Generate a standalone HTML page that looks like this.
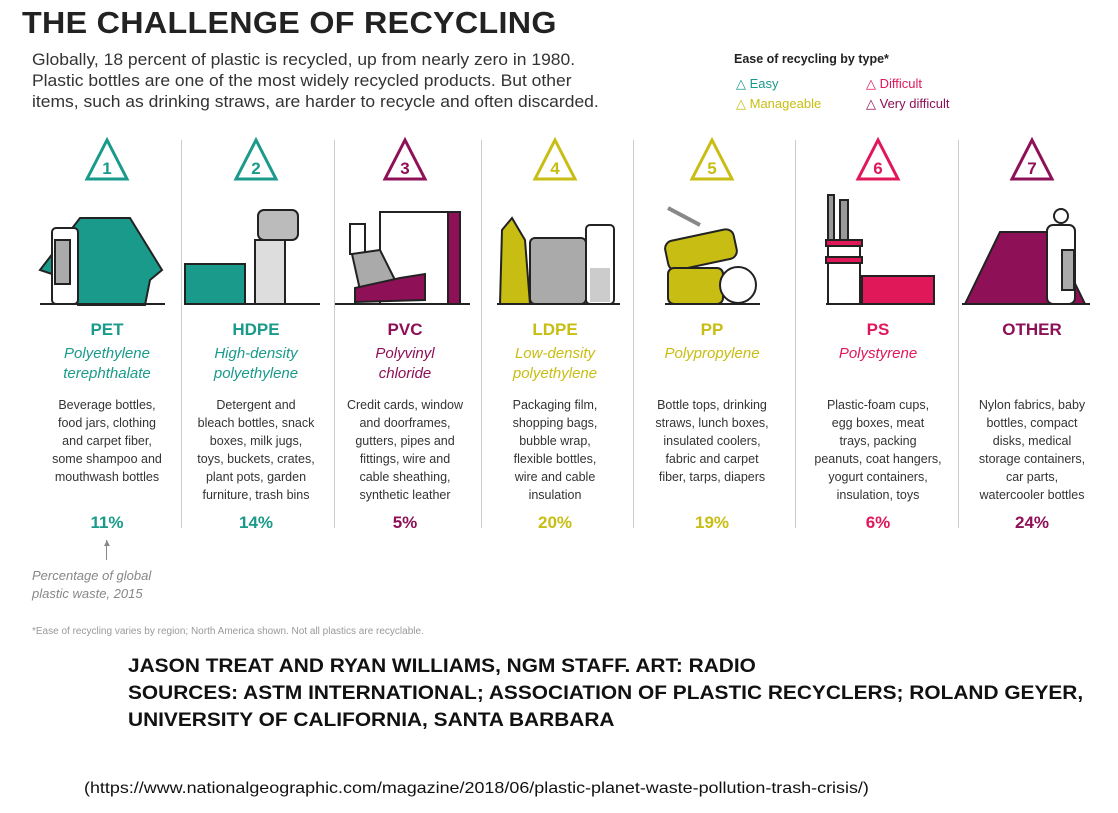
<!DOCTYPE html>
<html><head><meta charset="utf-8"><style>
body{margin:0;width:1118px;height:813px;background:#fff;position:relative;overflow:hidden;font-family:"Liberation Sans",sans-serif;color:#333}
.a{position:absolute}
.col{position:absolute;width:150px;text-align:center}
.nm{font-weight:bold;font-size:17px;top:320px}
.sub{font-style:italic;font-size:15px;top:344px;line-height:20px}
.desc{font-size:12.5px;top:396px;line-height:18px;color:#333}
.pct{font-weight:bold;font-size:17px;top:513px}
.div{position:absolute;top:140px;width:1px;height:388px;background:#ccc}
</style></head><body>
<div class="a" style="left:22px;top:5px;font-size:31px;font-weight:bold;color:#222;letter-spacing:0.3px;transform:scaleX(1.04);transform-origin:left">THE CHALLENGE OF RECYCLING</div>
<div class="a" style="left:32px;top:50px;font-size:16.5px;line-height:21px;color:#333;transform:scaleX(1.06);transform-origin:left">Globally, 18 percent of plastic is recycled, up from nearly zero in 1980.<br>Plastic bottles are one of the most widely recycled products. But other<br>items, such as drinking straws, are harder to recycle and often discarded.</div>
<div class="a" style="left:734px;top:52px;font-size:12.5px;font-weight:bold;color:#222">Ease of recycling by type*</div>
<div class="a" style="left:736px;top:74px;font-size:13px;line-height:20px;color:#333"><span style="color:#1a9a8a">△</span> <span style="color:#1a9a8a">Easy</span><br><span style="color:#c8bd12">△</span> <span style="color:#c8bd12">Manageable</span></div>
<div class="a" style="left:866px;top:74px;font-size:13px;line-height:20px"><span style="color:#e0185a">△ Difficult</span><br><span style="color:#8e1057">△ Very difficult</span></div>

<div class="div" style="left:181px"></div><div class="div" style="left:334px"></div><div class="div" style="left:481px"></div><div class="div" style="left:633px"></div><div class="div" style="left:795px"></div><div class="div" style="left:958px"></div>

<svg class="a" style="left:0;top:0" width="1118" height="320">
<g fill="#fff" stroke-width="3" font-family="Liberation Sans" font-weight="bold" font-size="17" text-anchor="middle">
<polygon points="107,140 87,179 127,179" stroke="#1a9a8a"/><text x="107" y="174" fill="#1a9a8a" stroke="none">1</text>
<polygon points="256,140 236,179 276,179" stroke="#1a9a8a"/><text x="256" y="174" fill="#1a9a8a" stroke="none">2</text>
<polygon points="405,140 385,179 425,179" stroke="#8e1057"/><text x="405" y="174" fill="#8e1057" stroke="none">3</text>
<polygon points="555,140 535,179 575,179" stroke="#c8bd12"/><text x="555" y="174" fill="#c8bd12" stroke="none">4</text>
<polygon points="712,140 692,179 732,179" stroke="#c8bd12"/><text x="712" y="174" fill="#c8bd12" stroke="none">5</text>
<polygon points="878,140 858,179 898,179" stroke="#e0185a"/><text x="878" y="174" fill="#e0185a" stroke="none">6</text>
<polygon points="1032,140 1012,179 1052,179" stroke="#8e1057"/><text x="1032" y="174" fill="#8e1057" stroke="none">7</text>
</g>
<g stroke="#222" stroke-width="2">
<polygon points="80,218 130,218 162,270 150,280 145,305 78,305 70,280 40,270" fill="#1a9a8a"/>
<rect x="52" y="228" width="26" height="76" rx="4" fill="#fff"/><rect x="55" y="240" width="15" height="44" fill="#aaa"/>
<line x1="40" y1="304" x2="165" y2="304"/>
<rect x="258" y="210" width="40" height="30" rx="6" fill="#bbb"/><rect x="255" y="240" width="30" height="64" fill="#ddd"/>
<rect x="185" y="264" width="60" height="40" fill="#1a9a8a"/><line x1="185" y1="304" x2="320" y2="304"/>
<rect x="380" y="212" width="80" height="92" fill="#fff"/><rect x="448" y="212" width="12" height="92" fill="#8e1057"/>
<rect x="350" y="224" width="15" height="30" fill="#fff"/><polygon points="352,254 380,250 395,280 360,290" fill="#aaa"/>
<polygon points="355,288 400,278 425,274 425,300 355,302" fill="#8e1057"/><line x1="335" y1="304" x2="470" y2="304"/>
<polygon points="502,230 512,218 525,240 530,304 500,304" fill="#c8bd12"/>
<rect x="530" y="238" width="56" height="66" rx="5" fill="#aaa"/>
<rect x="586" y="225" width="28" height="79" rx="4" fill="#fff"/><rect x="590" y="268" width="20" height="34" fill="#ccc" stroke="none"/>
<line x1="497" y1="304" x2="620" y2="304"/>
<line x1="668" y1="208" x2="700" y2="225" stroke="#888" stroke-width="4"/>
<rect x="666" y="235" width="70" height="30" rx="8" fill="#c8bd12" transform="rotate(-12 700 250)"/>
<rect x="668" y="268" width="55" height="36" rx="6" fill="#c8bd12"/><circle cx="738" cy="285" r="18" fill="#fff"/>
<line x1="665" y1="304" x2="760" y2="304"/>
<rect x="828" y="195" width="6" height="45" fill="#999"/><rect x="840" y="200" width="8" height="40" fill="#999"/>
<rect x="828" y="240" width="32" height="64" fill="#fff"/><rect x="826" y="240" width="36" height="6" fill="#e0185a"/><rect x="826" y="257" width="36" height="6" fill="#e0185a"/>
<rect x="862" y="276" width="72" height="28" fill="#e0185a"/><line x1="826" y1="304" x2="935" y2="304"/>
<polygon points="965,304 1000,232 1050,232 1085,304" fill="#8e1057"/>
<rect x="1047" y="225" width="28" height="79" rx="6" fill="#fff"/><circle cx="1061" cy="216" r="7" fill="#fff"/><rect x="1062" y="250" width="12" height="40" fill="#aaa"/>
<line x1="962" y1="304" x2="1090" y2="304"/>
</g>
</svg>

<div class="col nm" style="left:32px;color:#1a9a8a">PET</div>
<div class="col nm" style="left:181px;color:#1a9a8a">HDPE</div>
<div class="col nm" style="left:330px;color:#8e1057">PVC</div>
<div class="col nm" style="left:480px;color:#c8bd12">LDPE</div>
<div class="col nm" style="left:637px;color:#c8bd12">PP</div>
<div class="col nm" style="left:803px;color:#e0185a">PS</div>
<div class="col nm" style="left:957px;color:#8e1057">OTHER</div>

<div class="col sub" style="left:32px;color:#1a9a8a">Polyethylene<br>terephthalate</div>
<div class="col sub" style="left:181px;color:#1a9a8a">High-density<br>polyethylene</div>
<div class="col sub" style="left:330px;color:#8e1057">Polyvinyl<br>chloride</div>
<div class="col sub" style="left:480px;color:#c8bd12">Low-density<br>polyethylene</div>
<div class="col sub" style="left:637px;color:#c8bd12">Polypropylene</div>
<div class="col sub" style="left:803px;color:#e0185a">Polystyrene</div>

<div class="col desc" style="left:32px">Beverage bottles,<br>food jars, clothing<br>and carpet fiber,<br>some shampoo and<br>mouthwash bottles</div>
<div class="col desc" style="left:181px">Detergent and<br>bleach bottles, snack<br>boxes, milk jugs,<br>toys, buckets, crates,<br>plant pots, garden<br>furniture, trash bins</div>
<div class="col desc" style="left:330px">Credit cards, window<br>and doorframes,<br>gutters, pipes and<br>fittings, wire and<br>cable sheathing,<br>synthetic leather</div>
<div class="col desc" style="left:480px">Packaging film,<br>shopping bags,<br>bubble wrap,<br>flexible bottles,<br>wire and cable<br>insulation</div>
<div class="col desc" style="left:637px">Bottle tops, drinking<br>straws, lunch boxes,<br>insulated coolers,<br>fabric and carpet<br>fiber, tarps, diapers</div>
<div class="col desc" style="left:803px">Plastic-foam cups,<br>egg boxes, meat<br>trays, packing<br>peanuts, coat hangers,<br>yogurt containers,<br>insulation, toys</div>
<div class="col desc" style="left:957px">Nylon fabrics, baby<br>bottles, compact<br>disks, medical<br>storage containers,<br>car parts,<br>watercooler bottles</div>

<div class="col pct" style="left:32px;color:#1a9a8a">11%</div>
<div class="col pct" style="left:181px;color:#1a9a8a">14%</div>
<div class="col pct" style="left:330px;color:#8e1057">5%</div>
<div class="col pct" style="left:480px;color:#c8bd12">20%</div>
<div class="col pct" style="left:637px;color:#c8bd12">19%</div>
<div class="col pct" style="left:803px;color:#e0185a">6%</div>
<div class="col pct" style="left:957px;color:#8e1057">24%</div>

<div class="a" style="left:106px;top:540px;width:1px;height:20px;background:#888"></div>
<div class="a" style="left:102px;top:538px;font-size:10px;color:#888">▲</div>
<div class="a" style="left:32px;top:567px;font-size:13px;font-style:italic;line-height:18px;color:#888">Percentage of global<br>plastic waste, 2015</div>
<div class="a" style="left:32px;top:626px;font-size:10px;color:#999">*Ease of recycling varies by region; North America shown. Not all plastics are recyclable.</div>

<div class="a" style="left:128px;top:653px;font-size:19.5px;font-weight:bold;line-height:27px;color:#111;transform:scaleX(1.07);transform-origin:left">JASON TREAT AND RYAN WILLIAMS, NGM STAFF. ART: RADIO<br>SOURCES: ASTM INTERNATIONAL; ASSOCIATION OF PLASTIC RECYCLERS; ROLAND GEYER,<br>UNIVERSITY OF CALIFORNIA, SANTA BARBARA</div>
<div class="a" style="left:84px;top:780px;font-size:16px;color:#111;transform:scaleX(1.12);transform-origin:left">(https://www.nationalgeographic.com/magazine/2018/06/plastic-planet-waste-pollution-trash-crisis/)</div>
</body></html>
